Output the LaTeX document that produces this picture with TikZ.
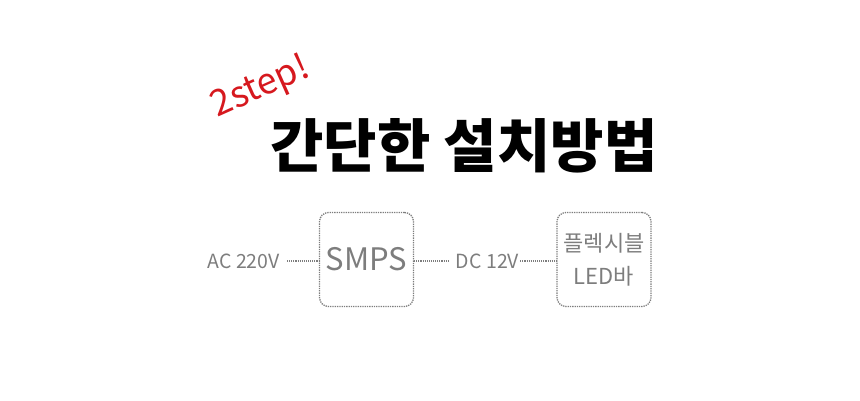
\documentclass[tikz,border=0pt]{standalone}
\usepackage{fontspec}
\setmainfont{Noto Sans CJK KR}
\usetikzlibrary{positioning}
\definecolor{stepRed}{RGB}{214,24,30}
\definecolor{lineGray}{RGB}{125,125,125}
\definecolor{textGray}{RGB}{125,125,125}

\begin{document}
\begin{tikzpicture}[x=1pt,y=-1pt,
        box/.style={draw=lineGray,densely dotted,line width=1.3pt,rounded corners=9pt,
                    minimum width=94pt,minimum height=94pt,inner sep=0pt},
        lbl/.style={text=textGray,font=\fontsize{19.5}{22}\selectfont,inner sep=1pt},
        wire/.style={draw=lineGray,densely dotted,line width=1.1pt}]
        \useasboundingbox (0,0) rectangle (860,400);
        \node[font=\bfseries\fontsize{58}{60}\selectfont] (title) at (464,146) {간단한 설치방법};
        \node[text=stepRed,font=\itshape\fontsize{36}{38}\selectfont,rotate=24] (step) at (261,88) {2step!};
        \node[box] (smps) at (366.5,259.5) {};
        \node[lbl,font=\fontsize{31}{34}\selectfont] at (smps) {SMPS};
        \node[box] (led) at (604,259.5) {};
        \node[lbl,align=center,font=\fontsize{22}{33}\selectfont] at (led) {플렉시블\\LED바};
        \node[lbl,anchor=east] (ac) at (281,261) {AC 220V};
        \node[lbl] (dc) at (487.5,261) {DC 12V};
        \draw[wire] ([xshift=6pt]ac.east) -- (ac.east -| smps.west);
        \draw[wire] (ac.east -| smps.east) -- ([xshift=-5pt]dc.west);
        \draw[wire] (dc.east) -- (dc.east -| led.west);
      \end{tikzpicture}
\end{document}
